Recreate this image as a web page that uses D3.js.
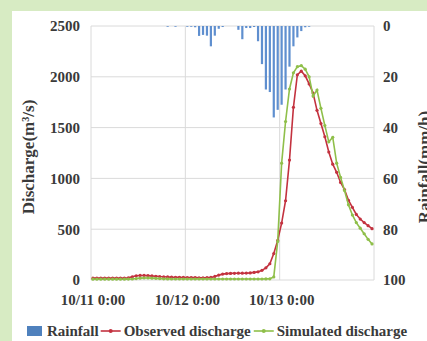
<!DOCTYPE html>
<html>
<head>
<meta charset="utf-8">
<script src="https://cdn.jsdelivr.net/npm/d3@7"></script>
<style>
  html, body { margin: 0; padding: 0; background: #d7ebc3; }
  svg { display: block; }
  text { font-family: "Liberation Serif", "Times New Roman", serif; font-weight: bold; fill: #3a3a3a; }
</style>
</head>
<body>
<svg id="chart" width="427" height="341"></svg>
<script>
// Hourly series, 10/11 0:00 to 10/13 23:00 (72 hours)
const hours = d3.range(72);

// Hourly rainfall (mm/h), keyed by hour index; hours not listed are dry
const rainHours = [19, 21, 24, 25, 26, 27, 28, 29, 30, 31, 32, 33, 37, 38, 39, 40, 41, 42, 43, 44, 45, 46, 47, 48, 49, 50, 51, 52, 53, 54, 55];
const rainValues = [0.3, 0.3, 0.3, 0.3, 0.5, 3.9, 3.5, 3.8, 8.0, 3.8, 1.1, 0.4, 1.5, 5.2, 0.8, 0.8, 0.4, 6, 15, 25, 26, 36, 33, 31, 25, 16, 8, 4.5, 2, 0.5, 0.3];

// Observed discharge (m3/s)
const observed = [
  18, 18, 18, 18, 18, 18, 18, 18, 18, 22, 32, 42,
  45, 45, 43, 40, 37, 34, 32, 30, 28, 27, 26, 25,
  24, 23, 23, 22, 22, 23, 25, 35, 48, 58, 63, 65,
  66, 67, 67, 68, 70, 75, 80, 95, 120, 160, 260, 390,
  560, 780, 1180, 1700, 2020, 2055, 2010, 1930, 1840, 1670, 1540, 1410,
  1260, 1140, 1060, 960, 890, 785, 715, 645, 600, 565, 535, 505
];

// Simulated discharge (m3/s)
const simulated = [
  8, 8, 8, 8, 8, 8, 8, 8, 8, 9, 10, 14,
  18, 20, 20, 18, 16, 14, 12, 11, 10, 10, 10, 10,
  10, 10, 10, 10, 10, 10, 10, 10, 10, 10, 10, 10,
  10, 10, 10, 10, 10, 10, 10, 10, 11, 12, 30, 380,
  1150, 1560, 1880, 2040, 2100, 2110, 2075, 2000, 1810, 1870, 1690, 1520,
  1360, 1405, 1150, 1010, 880, 740, 640, 565, 510, 455, 400, 355
];

const dayTicks = [0, 24, 48];
const dayLabels = ["10/11 0:00", "10/12 0:00", "10/13 0:00"];
const dischargeTicks = [0, 500, 1000, 1500, 2000, 2500];
const rainTicks = [0, 20, 40, 60, 80, 100];

const seriesNames = ["Rainfall", "Observed discharge", "Simulated discharge"];
const colors = { rain: "#5f8fcf", rainKey: "#4f81bd", obs: "#c3323f", sim: "#8fbf4a", grid: "#dadada" };

const svg = d3.select("#chart");

// white panel
svg.append("rect").attr("x", 12).attr("y", 11).attr("width", 415).attr("height", 330).attr("fill", "#ffffff");

const plot = { left: 91, right: 374, top: 26, bottom: 280 };

const x = d3.scaleLinear().domain([0, 72]).range([plot.left, plot.right]);
const xc = i => x(i + 0.5);   // centre of each hourly slot
const yQ = d3.scaleLinear().domain([0, 2500]).range([plot.bottom, plot.top]);
const yR = d3.scaleLinear().domain([0, 100]).range([plot.top, plot.bottom]);

// gridlines
const grid = svg.append("g");
grid.selectAll("line.h").data(dischargeTicks).join("line")
  .attr("x1", plot.left).attr("x2", plot.right)
  .attr("y1", d => yQ(d)).attr("y2", d => yQ(d))
  .attr("stroke", colors.grid).attr("stroke-width", 1);
grid.selectAll("line.v").data([0, 24, 48, 72]).join("line")
  .attr("x1", d => x(d)).attr("x2", d => x(d))
  .attr("y1", plot.top).attr("y2", plot.bottom)
  .attr("stroke", colors.grid).attr("stroke-width", 1);

// rainfall bars hanging from the top
const rain = rainHours.map((h, k) => ({ h, v: rainValues[k] }));
const barW = 2.2;
svg.append("g").selectAll("rect").data(rain).join("rect")
  .attr("x", d => xc(d.h) - barW / 2)
  .attr("y", yR(0))
  .attr("width", barW)
  .attr("height", d => yR(d.v) - yR(0))
  .attr("fill", colors.rain);

// discharge lines
const line = d3.line().x((d, i) => xc(i)).y(d => yQ(d));
function drawSeries(values, color) {
  const g = svg.append("g");
  g.append("path").datum(values).attr("d", line)
    .attr("fill", "none").attr("stroke", color).attr("stroke-width", 1.6);
  g.selectAll("circle").data(values).join("circle")
    .attr("cx", (d, i) => xc(i)).attr("cy", d => yQ(d)).attr("r", 1.6)
    .attr("fill", color);
}
drawSeries(observed, colors.obs);
drawSeries(simulated, colors.sim);

// axes
const axisFont = 15;
const gx = svg.append("g").attr("transform", `translate(0,${plot.bottom})`)
  .call(d3.axisBottom(x).tickValues(dayTicks).tickFormat((d, i) => dayLabels[i]).tickSize(0).tickPadding(14));
gx.selectAll("text").attr("dx", 1.5);

const gl = svg.append("g").attr("transform", `translate(${plot.left},0)`)
  .call(d3.axisLeft(yQ).tickValues(dischargeTicks).tickFormat(d3.format("d")).tickSize(0).tickPadding(11));

const gr = svg.append("g").attr("transform", `translate(${plot.right},0)`)
  .call(d3.axisRight(yR).tickValues(rainTicks).tickFormat(d3.format("d")).tickSize(0).tickPadding(9));

[gx, gl, gr].forEach(g => {
  g.select(".domain").remove();
  g.selectAll("text").attr("font-size", axisFont)
    .attr("font-family", "Liberation Serif, serif").attr("font-weight", "bold").attr("fill", "#3a3a3a");
});

// axis titles
svg.append("text")
  .attr("transform", `translate(34,${(plot.top + plot.bottom) / 2 + 4}) rotate(-90)`)
  .attr("text-anchor", "middle").attr("font-size", 17)
  .text("Discharge(m³/s)");
svg.append("text")
  .attr("transform", `translate(430,${(plot.top + plot.bottom) / 2 + 14}) rotate(-90)`)
  .attr("text-anchor", "middle").attr("font-size", 17)
  .text("Rainfall(mm/h)");

// legend
const lg = svg.append("g").attr("transform", "translate(0,331)");
lg.append("rect").attr("x", 27).attr("y", -5).attr("width", 15).attr("height", 10).attr("fill", colors.rainKey);
let cx = 47;
const legendFont = 15;
const t0 = lg.append("text").attr("x", cx).attr("y", 5).attr("font-size", legendFont).text(seriesNames[0]);
cx += t0.node().getComputedTextLength() + 2;

[[colors.obs, seriesNames[1]], [colors.sim, seriesNames[2]]].forEach(([c, name]) => {
  lg.append("line").attr("x1", cx).attr("x2", cx + 20).attr("y1", 0).attr("y2", 0)
    .attr("stroke", c).attr("stroke-width", 1.6);
  lg.append("circle").attr("cx", cx + 10).attr("cy", 0).attr("r", 2).attr("fill", c);
  const t = lg.append("text").attr("x", cx + 23).attr("y", 5).attr("font-size", legendFont).text(name);
  cx += 23 + t.node().getComputedTextLength() + 3;
});
</script>
</body>
</html>
